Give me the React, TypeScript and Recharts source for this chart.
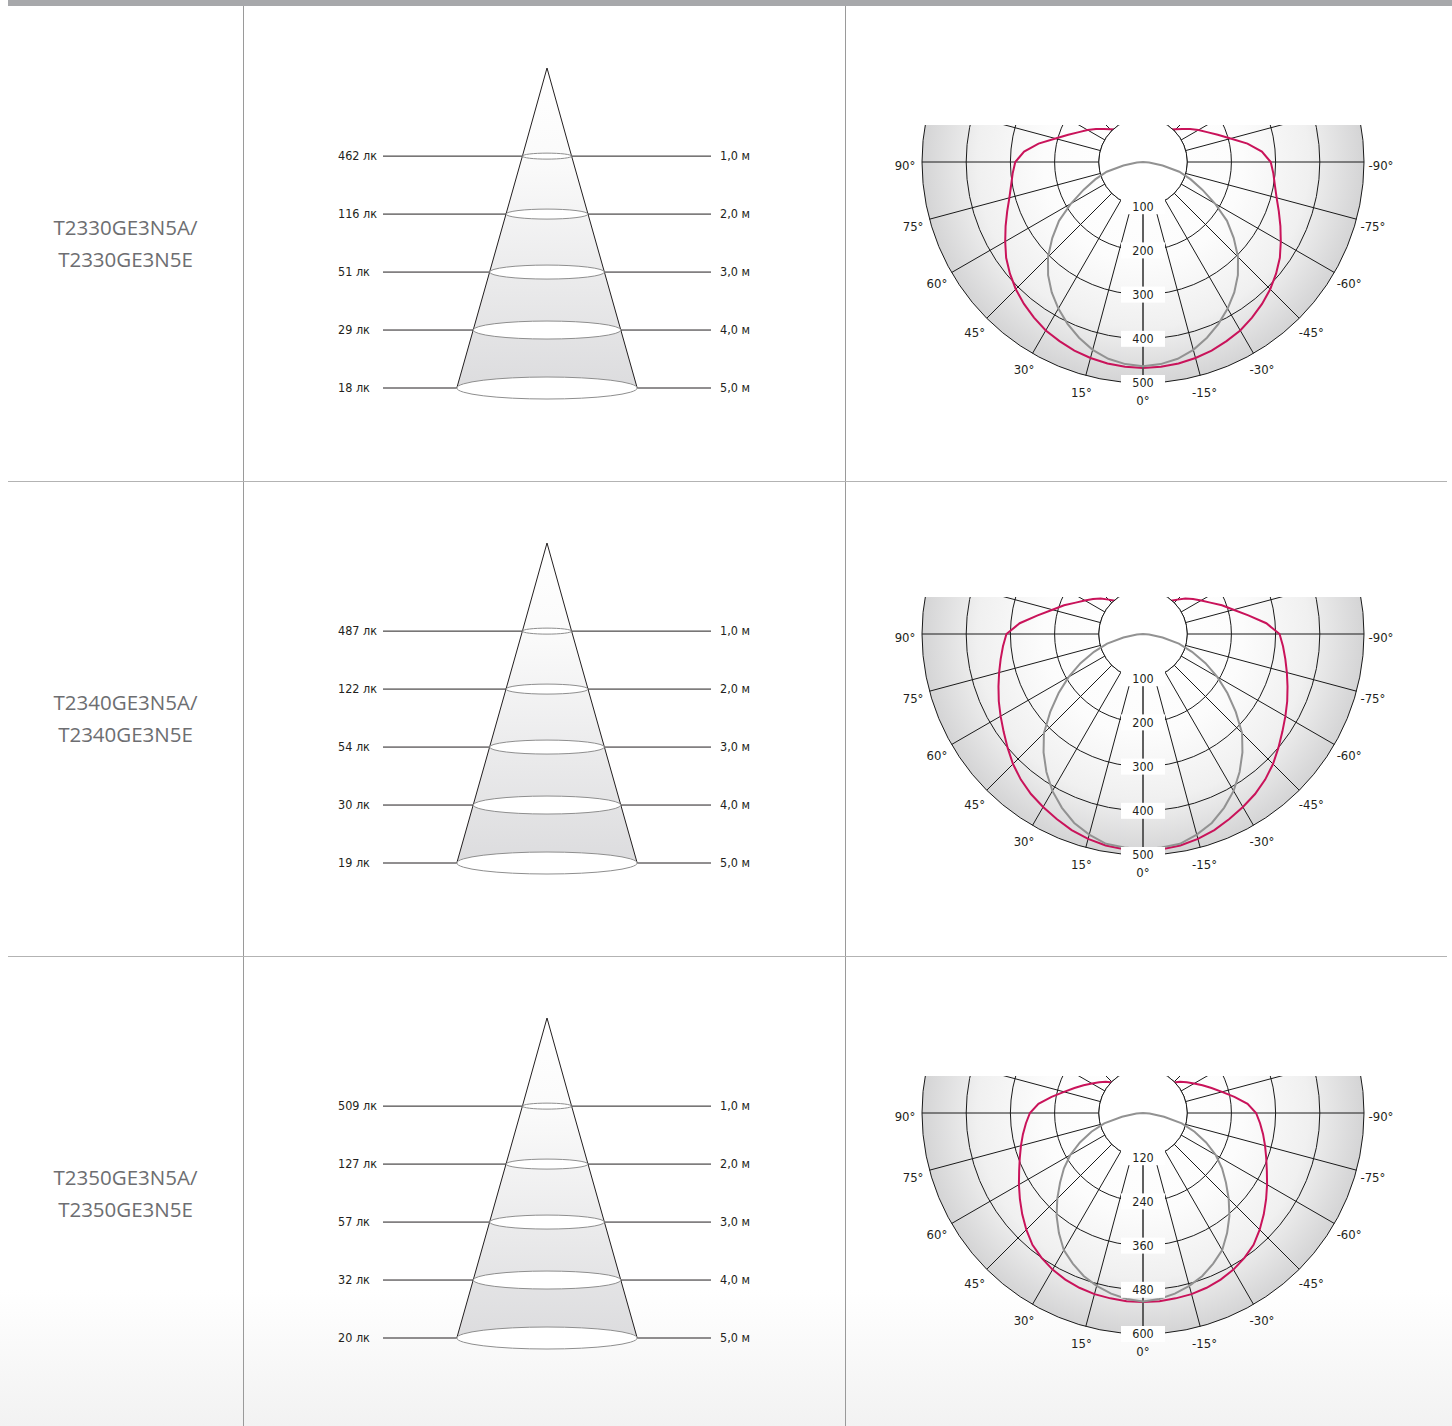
import React from 'react';
import {
  RadarChart, Radar, PolarGrid, PolarAngleAxis, PolarRadiusAxis,
  ComposedChart, Area, Scatter, XAxis, YAxis, ReferenceLine,
} from 'recharts';

const NARROW = "'Liberation Sans Narrow', 'DejaVu Sans Condensed', 'Roboto Condensed', 'Liberation Sans', Arial, sans-serif";
const TITLE_FONT = "'Open Sans', 'Noto Sans', sans-serif";

// ---------------- data ----------------
const PRODUCT_LINE1 = ['T2330GE3N5A/', 'T2340GE3N5A/', 'T2350GE3N5A/'];
const PRODUCT_LINE2 = ['T2330GE3N5E', 'T2340GE3N5E', 'T2350GE3N5E'];

// cone diagram
const DISTANCES = [1, 2, 3, 4, 5];
const DISTANCE_LABELS = ['1,0 м', '2,0 м', '3,0 м', '4,0 м', '5,0 м'];
const LUX_ROW1 = [462, 116, 51, 29, 18];
const LUX_ROW2 = [487, 122, 54, 30, 19];
const LUX_ROW3 = [509, 127, 57, 32, 20];
const SPOT_RADIUS = [0.6, 1.0, 1.4, 1.8, 2.2];
const CONE_APEX = -0.52;

// polar diagram: angles 0..180 (symmetric curves)
const ANGLES = [0, 5, 10, 15, 20, 25, 30, 35, 40, 45, 50, 55, 60, 65, 70, 75, 80, 85, 90,
  95, 100, 105, 110, 115, 120, 125, 130, 135, 140, 145, 150, 155, 160, 165, 170, 175, 180];
const RED_ROW1 = [466, 465, 463, 459, 454, 447, 440, 430, 419, 407, 393, 378, 360, 343, 327, 313, 303, 296, 289,
  270, 240, 205, 180, 160, 145, 130, 116, 105, 96, 80, 60, 45, 30, 20, 10, 5, 0];
const GREY_ROW1 = [462, 459, 452, 440, 423, 404, 383, 360, 334, 304, 268, 232, 188, 148, 115, 85, 45, 14, 0,
  0, 0, 0, 0, 0, 0, 0, 0, 0, 0, 0, 0, 0, 0, 0, 0, 0, 0];
const RED_ROW2 = [490, 489, 486, 480, 472, 462, 452, 442, 430, 416, 400, 385, 372, 360, 348, 337, 327, 318, 309,
  280, 242, 212, 190, 168, 152, 138, 125, 110, 98, 80, 60, 45, 30, 20, 10, 5, 0];
const GREY_ROW2 = [487, 485, 482, 470, 455, 434, 410, 381, 350, 317, 274, 233, 194, 156, 118, 84, 45, 14, 0,
  0, 0, 0, 0, 0, 0, 0, 0, 0, 0, 0, 0, 0, 0, 0, 0, 0, 0];
const RED_ROW3 = [513, 513, 511, 509, 505, 499, 491, 480, 467, 448, 428, 408, 389, 371, 356, 343, 331, 319, 307,
  285, 252, 222, 198, 178, 160, 145, 132, 117, 104, 85, 65, 48, 32, 20, 10, 5, 0];
const GREY_ROW3 = [512, 507, 498, 486, 471, 451, 430, 398, 365, 329, 294, 262, 228, 189, 149, 109, 58, 18, 0,
  0, 0, 0, 0, 0, 0, 0, 0, 0, 0, 0, 0, 0, 0, 0, 0, 0, 0];
const RINGS_ROW1 = [100, 200, 300, 400, 500];
const RINGS_ROW2 = [100, 200, 300, 400, 500];
const RINGS_ROW3 = [120, 240, 360, 480, 600];
const SPOKES = [0, 15, 30, 45, 60, 75, 90, 105, 120, 135, 150, 165, 180, 195, 210, 225, 240, 255, 270, 285, 300, 315, 330, 345];

// ---------------- layout ----------------
const ROW_STEP = 475;
const CONE_LEFT = 330;
const CONE_TOP0 = 67.5;
const CONE_AXIS_L = 53;
const CONE_AXIS_R = 50;
const CONE_PLOT_W = 328;
const CONE_W = CONE_AXIS_L + CONE_PLOT_W + CONE_AXIS_R;
const CONE_H = 349;
const X_DOMAIN: [number, number] = [-4, 4];
const PX_PER_UNIT_X = CONE_PLOT_W / (X_DOMAIN[1] - X_DOMAIN[0]);

const POLAR_CX = 1143.3;
const S = 560;
const C = 280;
const R = 221;
const LABEL_R = 238;

const POLAR_ROWS = [
  { cy: 162.3, clip: 125, red: RED_ROW1, grey: GREY_ROW1, rings: RINGS_ROW1 },
  { cy: 633.5, clip: 596.7, red: RED_ROW2, grey: GREY_ROW2, rings: RINGS_ROW2 },
  { cy: 1112.7, clip: 1075.5, red: RED_ROW3, grey: GREY_ROW3, rings: RINGS_ROW3 },
];
const CONE_ROWS = [LUX_ROW1, LUX_ROW2, LUX_ROW3];

function buildPolarData(red: number[], grey: number[]) {
  const n = ANGLES.length - 1; // 36
  const rows: any[] = [];
  for (let k = 0; k < 2 * n; k++) {
    const idx = k <= n ? k : 2 * n - k;
    const label = k <= n ? ANGLES[idx] : -ANGLES[idx];
    rows.push({ angle: label, red: red[idx], grey: grey[idx] });
  }
  return rows;
}

const renderAngleTick = (props: any) => {
  const { payload, x, y } = props;
  const v = Number(payload && payload.value);
  if (!(Math.abs(v) <= 90) || Math.abs(v) % 15 !== 0) return <g />;
  let a: number;
  if (payload && typeof payload.coordinate === 'number') {
    a = (payload.coordinate * Math.PI) / 180;
  } else {
    a = -Math.atan2(y - C, x - C);
  }
  const lx = C + LABEL_R * Math.cos(-a);
  const ly = C + LABEL_R * Math.sin(-a) + 3 * Math.abs(Math.cos(a));
  return (
    <text x={lx} y={ly} dy="0.35em" textAnchor="middle" fontFamily={NARROW} fontSize={13} fill="#231f20">
      {`${v}°`}
    </text>
  );
};

const renderRingTick = (props: any) => {
  const { x, y, payload } = props;
  if (!payload || Number(payload.value) === 0) return <g />;
  return (
    <g>
      <rect x={x - 22} y={y - 8} width={44} height={16} fill="#ffffff" />
      <text x={x} y={y} dy="0.35em" textAnchor="middle" fontFamily={NARROW} fontSize={12.5} fill="#231f20">
        {payload.value}
      </text>
    </g>
  );
};

function PolarBlock({ row, index }: { row: any; index: number }) {
  const max = row.rings[row.rings.length - 1];
  const data = buildPolarData(row.red, row.grey);
  const chartTop = row.cy - C;
  const offset = row.clip - chartTop;
  const innerR = (R * row.rings[0]) / max;
  const layer: React.CSSProperties = { position: 'absolute', left: 0, top: -offset, width: S, height: S };
  const gid = `disk${index}`;
  return (
    <div style={{ position: 'absolute', left: POLAR_CX - C, top: row.clip, width: S, height: S - offset, overflow: 'hidden' }}>
      <svg style={layer} width={S} height={S}>
        <defs>
          <radialGradient id={gid} cx="50%" cy="50%" r="50%">
            <stop offset="0" stopColor="#ffffff" />
            <stop offset="0.45" stopColor="#fcfcfc" />
            <stop offset="0.75" stopColor="#f0f0f0" />
            <stop offset="1" stopColor="#d4d4d5" />
          </radialGradient>
        </defs>
        <circle cx={C} cy={C} r={R} fill={`url(#${gid})`} />
      </svg>
      <div style={layer}>
        <RadarChart width={S} height={S} data={data} cx={C} cy={C} innerRadius={0} outerRadius={R}
          startAngle={-90} endAngle={-450} margin={{ top: 0, right: 0, bottom: 0, left: 0 }}>
          <PolarGrid gridType="circle" polarRadius={row.rings.map((v: number) => (R * v) / max)}
            polarAngles={SPOKES} stroke="#1a1a1a" strokeWidth={1} strokeOpacity={1} />
          <PolarAngleAxis dataKey="angle" tick={renderAngleTick} tickLine={false} axisLine={false} />
          <PolarRadiusAxis angle={-90} domain={[0, max]} tick={false} tickLine={false}
            axisLine={{ stroke: '#555555', strokeWidth: 1.6 }} />
          <Radar dataKey="red" stroke="#c9135a" strokeWidth={2} fill="none" fillOpacity={0}
            dot={false} isAnimationActive={false} />
        </RadarChart>
      </div>
      <svg style={layer} width={S} height={S}>
        <circle cx={C} cy={C} r={innerR} fill="#ffffff" stroke="#1a1a1a" strokeWidth={1} />
      </svg>
      <div style={layer}>
        <RadarChart width={S} height={S} data={data} cx={C} cy={C} innerRadius={0} outerRadius={R}
          startAngle={-90} endAngle={-450} margin={{ top: 0, right: 0, bottom: 0, left: 0 }}>
          <PolarAngleAxis dataKey="angle" tick={false} tickLine={false} axisLine={false} />
          <PolarRadiusAxis angle={-90} domain={[0, max]} ticks={row.rings} tickCount={row.rings.length + 1}
            tick={renderRingTick} tickLine={false} axisLine={false} />
          <Radar dataKey="grey" stroke="#929292" strokeWidth={2} fill="none" fillOpacity={0}
            dot={false} isAnimationActive={false} />
        </RadarChart>
      </div>
    </div>
  );
}

const renderSpot = (props: any) => {
  const { cx, cy, payload } = props;
  const rx = payload.r * PX_PER_UNIT_X;
  return <ellipse cx={cx} cy={cy} rx={rx} ry={rx * 0.122} fill="#ffffff" stroke="#8e8e8e" strokeWidth={1} />;
};

function ConeBlock({ lux, index }: { lux: number[]; index: number }) {
  const coneData = [{ d: CONE_APEX, range: [0, 0] }].concat(
    DISTANCES.map((d, i) => ({ d, range: [-SPOT_RADIUS[i], SPOT_RADIUS[i]] })),
  );
  const spotData = DISTANCES.map((d, i) => ({ x: 0, d, r: SPOT_RADIUS[i] }));
  const gid = `cone${index}`;
  const luxTick = (p: any) => {
    const i = DISTANCES.indexOf(Number(p.payload.value));
    return (
      <text x={p.x - 37} y={p.y} dy="0.35em" textAnchor="start" fontFamily={NARROW} fontSize={12.5} fill="#231f20">
        {`${lux[i]} лк`}
      </text>
    );
  };
  const distTick = (p: any) => {
    const i = DISTANCES.indexOf(Number(p.payload.value));
    return (
      <text x={p.x + 1} y={p.y} dy="0.35em" textAnchor="start" fontFamily={NARROW} fontSize={12.5} fill="#231f20">
        {DISTANCE_LABELS[i]}
      </text>
    );
  };
  const yDomain: [number, number] = [CONE_APEX, 5.5];
  return (
    <div style={{ position: 'absolute', left: CONE_LEFT, top: CONE_TOP0 + ROW_STEP * index, width: CONE_W, height: CONE_H }}>
      <ComposedChart layout="vertical" width={CONE_W} height={CONE_H} data={coneData}
        margin={{ top: 0, right: 0, bottom: 0, left: 0 }}>
        <defs>
          <linearGradient id={gid} x1="0" y1="0" x2="0" y2="1">
            <stop offset="0" stopColor="#ffffff" />
            <stop offset="0.3" stopColor="#fafafa" />
            <stop offset="1" stopColor="#dcdcde" />
          </linearGradient>
        </defs>
        <XAxis type="number" dataKey="x" domain={X_DOMAIN} hide />
        <YAxis yAxisId="lux" type="number" dataKey="d" domain={yDomain} orientation="left"
          width={CONE_AXIS_L} ticks={DISTANCES} interval={0} tick={luxTick} tickLine={false} axisLine={false} />
        <YAxis yAxisId="dist" type="number" dataKey="d" domain={yDomain} orientation="right"
          width={CONE_AXIS_R} ticks={DISTANCES} interval={0} tick={distTick} tickLine={false} axisLine={false} />
        <Area yAxisId="lux" dataKey="range" type="linear" fill={`url(#${gid})`} fillOpacity={1}
          stroke="#231f20" strokeWidth={1} isAnimationActive={false} dot={false} activeDot={false} />
        {DISTANCES.map((d, i) => (
          <ReferenceLine key={`l${i}`} yAxisId="lux" segment={[{ x: X_DOMAIN[0], y: d }, { x: -SPOT_RADIUS[i], y: d }]}
            stroke="#231f20" strokeWidth={1} />
        ))}
        {DISTANCES.map((d, i) => (
          <ReferenceLine key={`r${i}`} yAxisId="lux" segment={[{ x: SPOT_RADIUS[i], y: d }, { x: X_DOMAIN[1], y: d }]}
            stroke="#231f20" strokeWidth={1} />
        ))}
        <Scatter yAxisId="lux" data={spotData} dataKey="d" shape={renderSpot} isAnimationActive={false} />
      </ComposedChart>
    </div>
  );
}

export default function App() {
  return (
    <div style={{ position: 'absolute', left: 0, top: 0, width: 1452, height: 1426, background: '#ffffff', overflow: 'hidden' }}>
      <div style={{ position: 'absolute', left: 0, top: 1290, width: 1452, height: 136, background: 'linear-gradient(#ffffff, #f2f2f2)' }} />
      <div style={{ position: 'absolute', left: 8, top: 0, width: 1444, height: 6, background: '#a7a8ab' }} />
      <div style={{ position: 'absolute', left: 243, top: 6, width: 1, height: 1420, background: '#9a9a9a' }} />
      <div style={{ position: 'absolute', left: 845, top: 6, width: 1, height: 1420, background: '#9a9a9a' }} />
      <div style={{ position: 'absolute', left: 8, top: 481, width: 1439, height: 1, background: '#b3b3b3' }} />
      <div style={{ position: 'absolute', left: 8, top: 956, width: 1439, height: 1, background: '#b3b3b3' }} />
      {PRODUCT_LINE1.map((t, i) => (
        <div key={`p${i}`} style={{ position: 'absolute', left: 8, top: 211 + ROW_STEP * i, width: 235, textAlign: 'center',
          fontFamily: TITLE_FONT, fontSize: 20.5, lineHeight: '32px', color: '#6d6e71' }}>
          <div>{t}</div>
          <div>{PRODUCT_LINE2[i]}</div>
        </div>
      ))}
      {CONE_ROWS.map((lux, i) => <ConeBlock key={`c${i}`} lux={lux} index={i} />)}
      {POLAR_ROWS.map((row, i) => <PolarBlock key={`r${i}`} row={row} index={i} />)}
    </div>
  );
}
